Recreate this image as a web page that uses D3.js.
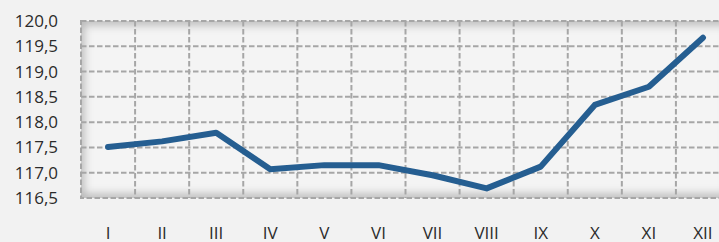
<!DOCTYPE html>
<html>
<head>
<meta charset="utf-8">
<script src="https://cdn.jsdelivr.net/npm/d3@7"></script>
<style>
	html, body { margin: 0; padding: 0; background: #f2f2f2; }
	svg { display: block; }
</style>
</head>
<body>
<svg id="chart"></svg>
<script>
var months = ["I", "II", "III", "IV", "V", "VI", "VII", "VIII", "IX", "X", "XI", "XII"];
var values = [117.51, 117.62, 117.79, 117.07, 117.15, 117.15, 116.95, 116.69, 117.12, 118.34, 118.70, 119.67];
var yTicks = [116.5, 117.0, 117.5, 118.0, 118.5, 119.0, 119.5, 120.0];

var width = 719, height = 242,
	margin = {top: 21, right: -11, bottom: 44, left: 81};

var svg = d3.select("#chart")
	.attr("width", width)
	.attr("height", height);

var x = d3.scaleBand()
	.domain(months)
	.range([margin.left, width - margin.right]);

var y = d3.scaleLinear()
	.domain([116.5, 120])
	.range([height - margin.bottom, margin.top]);

var defs = svg.append("defs");
defs.append("clipPath").attr("id", "plotClip")
	.append("rect")
	.attr("x", x.range()[0]).attr("y", y.range()[1])
	.attr("width", x.range()[1] - x.range()[0])
	.attr("height", y.range()[0] - y.range()[1]);
defs.append("filter").attr("id", "blur")
	.attr("x", "-10%").attr("y", "-10%").attr("width", "120%").attr("height", "120%")
	.append("feGaussianBlur").attr("stdDeviation", 5);

var plotW = x.range()[1] - x.range()[0],
	plotH = y.range()[0] - y.range()[1];

// plot background with soft inner shadow
svg.append("rect")
	.attr("x", x.range()[0]).attr("y", y.range()[1])
	.attr("width", plotW).attr("height", plotH)
	.style("fill", "#f4f4f4");

svg.append("g").attr("clip-path", "url(#plotClip)")
	.append("rect")
	.attr("x", x.range()[0] - 2).attr("y", y.range()[1] - 1)
	.attr("width", plotW + 4).attr("height", plotH + 2)
	.attr("filter", "url(#blur)")
	.style("fill", "none")
	.style("stroke", "#000")
	.style("stroke-opacity", 0.28)
	.style("stroke-width", 9);

var grid = svg.append("g").attr("class", "grid");

// horizontal gridlines
grid.selectAll(".hline")
	.data(yTicks.slice(1, -1))
	.enter().append("line")
	.attr("class", "hline")
	.attr("x1", x.range()[0]).attr("x2", x.range()[1])
	.attr("y1", function(d) { return y(d); })
	.attr("y2", function(d) { return y(d); });

// vertical gridlines between categories
grid.selectAll(".vline")
	.data(months.slice(1))
	.enter().append("line")
	.attr("class", "vline")
	.attr("x1", function(d) { return x(d); })
	.attr("x2", function(d) { return x(d); })
	.attr("y1", y.range()[1]).attr("y2", y.range()[0]);

grid.append("rect")
	.attr("x", x.range()[0]).attr("y", y.range()[1])
	.attr("width", plotW).attr("height", plotH)
	.style("fill", "none");

grid.selectAll("line, rect")
	.style("stroke", "#a6a6a6")
	.style("stroke-width", 2)
	.style("stroke-dasharray", "5.5,2.5");

// y axis labels
var yAxis = svg.append("g")
	.attr("transform", "translate(" + (margin.left - 23) + ",0)")
	.call(d3.axisLeft(y).tickValues(yTicks).tickSize(0).tickPadding(0)
		.tickFormat(function(d) { return d3.format(".1f")(d).replace(".", ","); }));
yAxis.select(".domain").remove();
yAxis.selectAll(".tick text")
	.style("font-family", "Open Sans")
	.style("font-size", "17px")
	.style("fill", "#2b2b2b");

// x axis labels
var xAxis = svg.append("g")
	.attr("transform", "translate(0," + (height - 12) + ")")
	.call(d3.axisBottom(x).tickSize(0).tickPadding(0));
xAxis.select(".domain").remove();
xAxis.selectAll(".tick text")
	.attr("dy", "0.5em")
	.style("font-family", "Open Sans")
	.style("font-size", "17px")
	.style("fill", "#2b2b2b");

// line
var line = d3.line()
	.x(function(d, i) { return x(months[i]) + x.bandwidth() / 2; })
	.y(function(d) { return y(d); });

svg.append("path")
	.datum(values)
	.attr("d", line)
	.style("fill", "none")
	.style("stroke", "#255e91")
	.style("stroke-width", 6)
	.style("stroke-linecap", "round")
	.style("stroke-linejoin", "round");
</script>
</body>
</html>
